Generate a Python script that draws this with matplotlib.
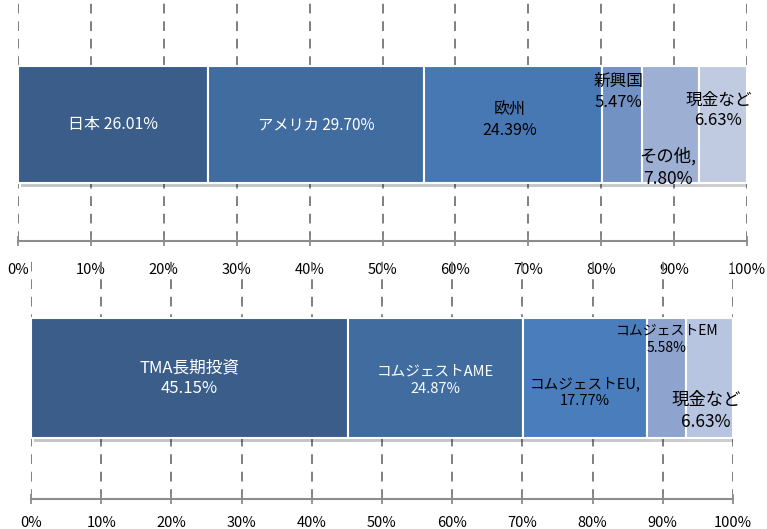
import numpy as np
import matplotlib
matplotlib.use("Agg")
import matplotlib.pyplot as plt
import matplotlib.patheffects as pe

plt.rcParams['font.family'] = ['Noto Sans CJK JP', 'DejaVu Sans']

# data: asset allocation (%)
top_names = ["日本", "アメリカ", "欧州", "新興国", "その他,", "現金など"]
top_values = [26.01, 29.70, 24.39, 5.47, 7.80, 6.63]
top_seps = [" ", " ", "\n", "\n", "\n", "\n"]
top_colors = ["#3A5D89", "#416C9F", "#4878B4", "#7292C3", "#9DB0D4", "#C0CBE2"]
top_text_colors = ["white", "white", "black", "black", "black", "black"]
top_sizes = [11.5, 11, 11.5, 12, 12.5, 12]
# label offsets from segment centre (dx in %, dy in bar heights)
top_offsets = [(0, 0), (0, 0), (-0.5, 0.04), (-0.5, 0.28), (-0.3, -0.37), (-0.6, 0.12)]

bottom_names = ["TMA長期投資", "コムジェストAME", "コムジェストEU,", "コムジェストEM", "現金など"]
bottom_values = [45.15, 24.87, 17.77, 5.58, 6.63]
bottom_seps = ["\n", "\n", "\n", "\n", "\n"]
bottom_colors = ["#3A5D89", "#416C9F", "#4A7DBB", "#8EA3CD", "#B8C5E1"]
bottom_text_colors = ["white", "white", "black", "black", "black"]
bottom_sizes = [12, 10.5, 10.5, 10, 12.5]
bottom_offsets = [(0, 0), (0, -0.02), (0, -0.12), (0, 0.32), (-0.5, -0.27)]

ticks = np.arange(0, 101, 10)
tick_labels = [f"{t}%" for t in ticks]

W, H = 767, 529
fig = plt.figure(figsize=(W / 100, H / 100), dpi=100)


def draw_bar(ax, names, values, seps, colors, tcolors, sizes, offsets, ylim, pad):
    lefts = np.concatenate([[0], np.cumsum(values)[:-1]])
    bars = ax.barh(0, values, left=lefts, height=1.0, color=colors,
                   edgecolor="white", linewidth=1.5, zorder=3)
    for b in bars:
        b.set_path_effects([pe.SimplePatchShadow(offset=(2, -3), alpha=0.25), pe.Normal()])
    for name, v, left, sep, tc, fs, (dx, dy) in zip(names, values, lefts, seps, tcolors, sizes, offsets):
        ax.text(left + v / 2 + dx, dy, f"{name}{sep}{v:.2f}%", ha="center", va="center",
                color=tc, fontsize=fs, linespacing=1.3, zorder=5)
    ax.set_xlim(0, 100)
    ax.set_ylim(*ylim)
    ax.set_xticks(ticks)
    ax.set_xticklabels(tick_labels, fontsize=10.5)
    ax.set_yticks([])
    for s in ["top", "left", "right"]:
        ax.spines[s].set_visible(False)
    ax.spines["bottom"].set_color("#8C8C8C")
    ax.spines["bottom"].set_linewidth(1.5)
    ax.tick_params(axis="x", direction="inout", length=7, width=1.3, color="#8C8C8C", pad=pad)
    ax.xaxis.grid(True, color="#7F7F7F", linestyle=(0, (5, 4)), linewidth=1.4)
    ax.set_axisbelow(True)
    ax.patch.set_alpha(0)


# top chart: x 18..747 px, axes y 0..241 px
ax1 = fig.add_axes([18 / W, 1 - 241 / H, (747 - 18) / W, 241 / H])
draw_bar(ax1, top_names, top_values, top_seps, top_colors, top_text_colors,
         top_sizes, top_offsets, (-0.996, 1.064), 12)

# bottom chart: x 31..733 px, axes y 258..499 px
ax2 = fig.add_axes([31 / W, 1 - 499 / H, (733 - 31) / W, (499 - 258) / H])
draw_bar(ax2, bottom_names, bottom_values, bottom_seps, bottom_colors, bottom_text_colors,
         bottom_sizes, bottom_offsets, (-1.008, 1.0), 9)

fig.savefig("out.png", dpi=100)
